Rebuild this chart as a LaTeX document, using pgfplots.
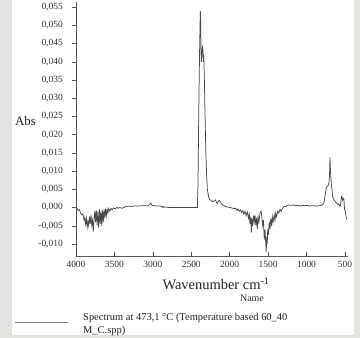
\documentclass[border=0pt]{standalone}
\usepackage{pgfplots}
\pgfplotsset{compat=1.18}
\usepackage{fontspec}
\setmainfont{Liberation Serif}
\definecolor{bggrey}{HTML}{E2E3DE}
\definecolor{specgrey}{HTML}{4A4A4A}
\begin{document}
\begin{tikzpicture}[x=1bp,y=1bp]
\fill[bggrey] (0,0) rectangle (360,338);
\fill[white] (12,3) rectangle (354,338);
\begin{axis}[
  at={(76bp,82bp)}, anchor=south west,
  scale only axis, width=272bp, height=254bp,
  xmin=460, xmax=4000, x dir=reverse,
  ymin=-0.0133, ymax=0.0564,
  axis x line*=bottom, axis y line*=left,
  axis line style={gray!70!black, line width=0.5bp},
  xtick={500,1000,1500,2000,2500,3000,3500,4000},
  ytick={-0.010,-0.005,0,0.005,0.010,0.015,0.020,0.025,0.030,0.035,0.040,0.045,0.050,0.055},
  scaled y ticks=false,
  tick align=inside, major tick length=4bp,
  tick style={gray!70!black, line width=0.5bp},
  y tick style={xshift=-4bp},
  /pgf/number format/assume math mode=true,
  yticklabel style={/pgf/number format/.cd, fixed, fixed zerofill, precision=3, use comma, /tikz/.cd,
    font=\fontsize{9.5}{11}\selectfont, text=gray!40!black, inner sep=0pt, anchor=east, xshift=-13bp},
  xticklabel style={/pgf/number format/.cd, fixed, 1000 sep={}, /tikz/.cd,
    font=\fontsize{9.5}{11}\selectfont, text=gray!40!black, inner sep=0pt, anchor=north, yshift=-5bp},
  clip=false,
]
\addplot[specgrey, line width=0.75bp] coordinates {
(4000,0.0000) (3985,-0.0003) (3970,-0.0008) (3955,-0.0006) (3940,-0.0015) (3925,-0.0020) (3910,-0.0018) (3895,-0.0035) (3885,-0.0028) (3875,-0.0045) (3865,-0.0030) (3855,-0.0055) (3845,-0.0038) (3835,-0.0050) (3825,-0.0025) (3815,-0.0045) (3805,-0.0020) (3795,-0.0048) (3785,-0.0035) (3775,-0.0066) (3765,-0.0030) (3755,-0.0010) (3745,-0.0040) (3735,-0.0008) (3725,-0.0048) (3715,-0.0012) (3705,-0.0055) (3695,-0.0005) (3685,-0.0045) (3675,-0.0010) (3665,-0.0050) (3655,-0.0008) (3645,-0.0040) (3635,-0.0005) (3625,-0.0030) (3615,-0.0003) (3605,-0.0022) (3595,-0.0005) (3585,-0.0015) (3575,-0.0003) (3560,-0.0010) (3545,-0.0002) (3530,-0.0006) (3510,-0.0001) (3490,-0.0004) (3470,0.0000) (3450,-0.0002) (3430,0.0000) (3400,-0.0002) (3370,0.0001) (3340,0.0003) (3310,0.0004) (3280,0.0003) (3250,0.0004) (3200,0.0004) (3150,0.0005) (3100,0.0005) (3060,0.0005) (3040,0.0009) (3025,0.0012) (3010,0.0006) (2980,0.0005) (2950,0.0004) (2900,0.0004) (2880,0.0001) (2870,0.0003) (2860,0.0000) (2850,0.0002) (2820,0.0001) (2780,0.0000) (2700,0.0000) (2600,0.0000) (2500,0.0000) (2420,0.0000) (2412,0.0070) (2400,0.0300) (2390,0.0450) (2382,0.0540) (2378,0.0520) (2372,0.0420) (2368,0.0400) (2360,0.0430) (2350,0.0445) (2344,0.0400) (2338,0.0420) (2330,0.0360) (2320,0.0250) (2310,0.0150) (2300,0.0090) (2290,0.0050) (2275,0.0030) (2260,0.0022) (2245,0.0020) (2225,0.0016) (2200,0.0018) (2185,0.0021) (2170,0.0014) (2160,0.0011) (2145,0.0018) (2133,0.0020) (2115,0.0013) (2095,0.0008) (2075,0.0005) (2056,0.0003) (2020,0.0001) (1990,0.0000) (1960,-0.0002) (1940,-0.0003)
(1920,-0.0002) (1905,-0.0008) (1890,-0.0004) (1875,-0.0010) (1860,-0.0006) (1845,-0.0014) (1830,-0.0008) (1815,-0.0018) (1800,-0.0010) (1785,-0.0022) (1770,-0.0012) (1755,-0.0030) (1745,-0.0018) (1735,-0.0045) (1725,-0.0025) (1718,-0.0069) (1710,-0.0030) (1700,-0.0050) (1690,-0.0022) (1680,-0.0040) (1670,-0.0020) (1660,-0.0048) (1650,-0.0028) (1641,-0.0060) (1630,-0.0025) (1620,-0.0040) (1605,-0.0015) (1590,-0.0010) (1580,-0.0030) (1570,-0.0050) (1560,-0.0035) (1550,-0.0088) (1540,-0.0060) (1530,-0.0100) (1524,-0.0121) (1518,-0.0080) (1511,-0.0100) (1505,-0.0060) (1495,-0.0075) (1485,-0.0039) (1475,-0.0060) (1465,-0.0030) (1455,-0.0050) (1445,-0.0025) (1435,-0.0040) (1420,-0.0020) (1410,-0.0035) (1400,-0.0015) (1390,-0.0025) (1375,-0.0010) (1360,-0.0015) (1345,-0.0005) (1330,-0.0010) (1310,-0.0002) (1291,0.0003) (1270,0.0002) (1250,0.0006) (1226,0.0007) (1200,0.0006) (1170,0.0007) (1140,0.0005) (1110,0.0006) (1080,0.0004) (1050,0.0006) (1020,0.0005) (990,0.0006) (960,0.0004) (930,0.0005) (900,0.0005) (870,0.0004) (840,0.0005) (811,0.0006) (790,0.0008) (772,0.0014) (760,0.0030) (746,0.0050) (733,0.0058) (720,0.0060) (707,0.0069) (700,0.0090) (694,0.0138) (688,0.0100) (681,0.0077) (675,0.0060) (668,0.0050) (660,0.0030) (650,0.0025) (643,0.0022) (630,0.0018) (617,0.0014) (605,0.0012) (591,0.0008) (580,0.0010) (565,0.0003) (555,0.0010) (545,0.0030) (539,0.0030) (530,0.0020) (520,0.0025) (513,0.0022) (505,-0.0005) (495,-0.0010) (485,-0.0025) (474,-0.0033)
};
\end{axis}
\node[font=\fontsize{13}{15}\selectfont, text=gray!30!black] at (25.5,217) {Abs};
\node[font=\fontsize{14.5}{17}\selectfont, text=gray!30!black] at (216,54) {Wavenumber cm\textsuperscript{-1}};
\node[font=\fontsize{10}{12}\selectfont, text=gray!40!black] at (252,40) {Name};
\draw[gray, line width=0.6bp] (15,16) -- (68,16);
\node[font=\fontsize{10.5}{12}\selectfont, text=gray!30!black, anchor=west, inner sep=0pt] at (83,20) {Spectrum at 473,1 °C (Temperature based 60\_40};
\node[font=\fontsize{10.5}{12}\selectfont, text=gray!30!black, anchor=west, inner sep=0pt] at (83,7) {M\_C.spp)};
\end{tikzpicture}
\end{document}
